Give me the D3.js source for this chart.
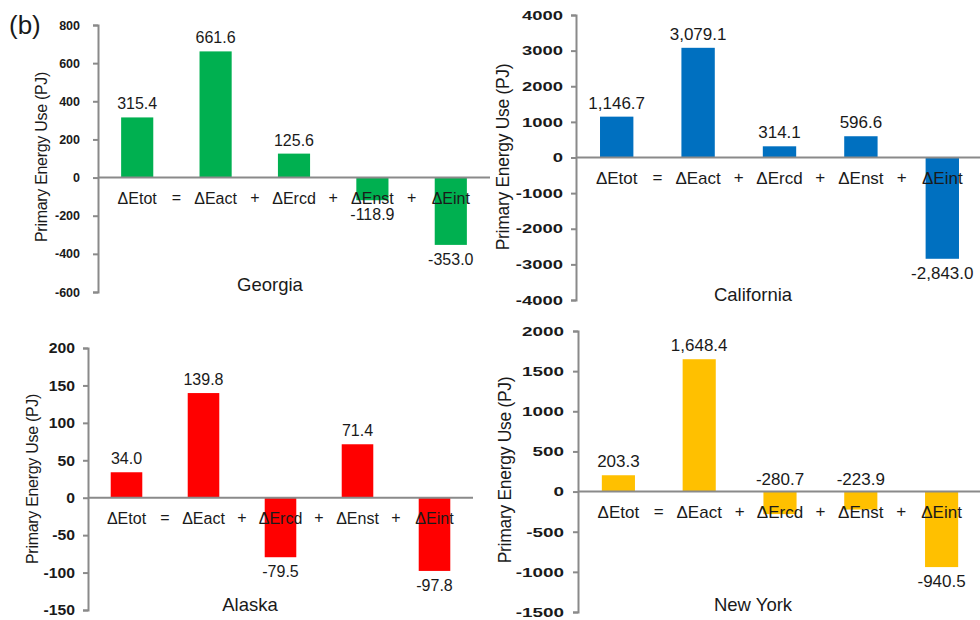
<!DOCTYPE html>
<html><head><meta charset="utf-8">
<script src="https://cdn.jsdelivr.net/npm/d3@7"></script>
<style>body{margin:0;background:#fff}svg{display:block}text{font-family:"Liberation Sans",Arial,sans-serif;fill:#1a1a1a}</style>
</head><body><svg id="c" width="980" height="620"></svg>
<script>
const categories = ["ΔEtot","ΔEact","ΔErcd","ΔEnst","ΔEint"];
const operators = ["=","+","+","+"];
const georgiaValues = [315.4, 661.6, 125.6, -118.9, -353.0];
const californiaValues = [1146.7, 3079.1, 314.1, 596.6, -2843.0];
const alaskaValues = [34.0, 139.8, -79.5, 71.4, -97.8];
const newYorkValues = [203.3, 1648.4, -280.7, -223.9, -940.5];
const georgiaTicks = [-600,-400,-200,0,200,400,600,800];
const californiaTicks = [-4000,-3000,-2000,-1000,0,1000,2000,3000,4000];
const alaskaTicks = [-150,-100,-50,0,50,100,150,200];
const newYorkTicks = [-1500,-1000,-500,0,500,1000,1500,2000];
const panelTitles = ["Georgia","California","Alaska","New York"];
const yTitle = "Primary Energy Use (PJ)";

const panels = [
  {title:panelTitles[0], values:georgiaValues, ticks:georgiaTicks, color:"#00B050", x0:98, x1:490, yTop:25, yBot:292, ytX:41, ytY:157, tX:270, tY:291, tickFs:12.5, tickSx:1.0, tickPad:13, catFs:16, valFs:16, ytFs:16, above:[0,0,0,0,0]},
  {title:panelTitles[1], values:californiaValues, ticks:californiaTicks, color:"#0070C0", x0:576, x1:983, yTop:15, yBot:300, ytX:503, ytY:157, tX:753, tY:301, tickFs:13, tickSx:1.42, tickPad:8, catFs:17, valFs:17, ytFs:17.5, above:[0,0,0,0,0]},
  {title:panelTitles[2], values:alaskaValues, ticks:alaskaTicks, color:"#FF0000", x0:88, x1:473, yTop:348, yBot:610, ytX:32, ytY:479, tX:250, tY:611, tickFs:15, tickSx:1.05, tickPad:8, catFs:16, valFs:16, ytFs:16, above:[0,0,0,0,0]},
  {title:panelTitles[3], values:newYorkValues, ticks:newYorkTicks, color:"#FFC000", x0:578, x1:982, yTop:331, yBot:612, ytX:505, ytY:470, tX:753, tY:611, tickFs:13.5, tickSx:1.4, tickPad:9, catFs:17, valFs:17, ytFs:17.5, above:[0,0,1,1,0]}
];
const loc = d3.formatLocale({decimal:".", thousands:",", grouping:[3], currency:["$",""], minus:"-"});
const fmt = loc.format(",.1f");
const tickFmt = loc.format("d");
const svg = d3.select("#c");
const axisColor = "#8a8a8a";

panels.forEach(p => {
  const g = svg.append("g");
  const y = d3.scaleLinear().domain([d3.min(p.ticks), d3.max(p.ticks)]).range([p.yBot, p.yTop]);
  const x = d3.scaleBand().domain(categories).range([p.x0, p.x1]).paddingInner(0.59).paddingOuter(0.295);
  const step = x.step();

  g.selectAll("rect").data(p.values).join("rect")
    .attr("x", (d,i) => x(categories[i]))
    .attr("width", x.bandwidth())
    .attr("y", d => y(Math.max(0,d)))
    .attr("height", d => Math.abs(y(d) - y(0)))
    .attr("fill", p.color);

  const ax = g.append("g").attr("transform", `translate(${p.x0},0)`)
    .call(d3.axisLeft(y).tickValues(p.ticks).tickSize(5).tickPadding(p.tickPad).tickFormat(tickFmt));
  ax.select(".domain").attr("stroke", axisColor).attr("stroke-width", 2);
  ax.selectAll(".tick line").attr("stroke", axisColor).attr("stroke-width", 2);
  ax.selectAll(".tick text").attr("x", 0)
    .attr("transform", `translate(${-(5 + p.tickPad)},0) scale(${p.tickSx},1)`)
    .attr("font-size", p.tickFs).attr("font-weight", "bold").attr("fill", "#111");

  g.append("line").attr("x1", p.x0).attr("x2", p.x1).attr("y1", y(0)).attr("y2", y(0))
    .attr("stroke", axisColor).attr("stroke-width", 2);

  g.selectAll("text.cat").data(categories).join("text").attr("class","cat")
    .attr("x", d => x(d) + x.bandwidth()/2).attr("y", y(0) + 26)
    .attr("text-anchor","middle").attr("font-size", p.catFs).text(d => d);
  g.selectAll("text.op").data(operators).join("text").attr("class","op")
    .attr("x", (d,i) => p.x0 + step*(i+1)).attr("y", y(0) + 25)
    .attr("text-anchor","middle").attr("font-size", p.catFs).text(d => d);

  g.selectAll("text.val").data(p.values).join("text").attr("class","val")
    .attr("x", (d,i) => x(categories[i]) + x.bandwidth()/2)
    .attr("y", (d,i) => p.above[i] ? y(0) - 7 : (d >= 0 ? y(d) - 8 : y(d) + 20))
    .attr("text-anchor","middle").attr("font-size", p.valFs).attr("fill","#222").text(d => fmt(d));

  g.append("text").attr("transform", `translate(${p.ytX},${p.ytY}) rotate(-90)`)
    .attr("text-anchor","middle").attr("dy","0.35em").attr("font-size", p.ytFs).attr("letter-spacing", -0.3).text(yTitle);

  g.append("text").attr("x", p.tX).attr("y", p.tY).attr("text-anchor","middle").attr("font-size", 18.5).text(p.title);
});

svg.append("text").attr("x", 9).attr("y", 34).attr("font-size", 26).text("(b)");
</script></body></html>
